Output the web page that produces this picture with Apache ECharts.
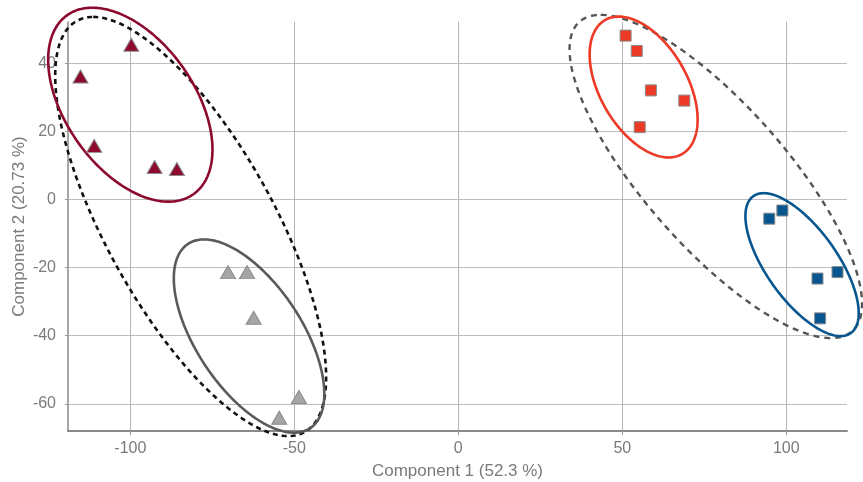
<!DOCTYPE html>
<html>
<head>
<meta charset="utf-8">
<script src="https://cdn.jsdelivr.net/npm/echarts@6/dist/echarts.min.js"></script>
<style>
html,body{margin:0;padding:0;background:#fff;}
#chart{width:863px;height:482px;}
</style>
</head>
<body>
<div id="chart"></div>
<script>
// ---- data ----
const xTicks = [-100, -50, 0, 50, 100];
const yTicks = [-60, -40, -20, 0, 20, 40];

const hybridomaRed = [[-99.7, 45.5], [-115.2, 36.2], [-111.0, 15.8], [-92.6, 9.6], [-85.8, 9.0]];
const hybridomaGray = [[-70.2, -21.3], [-64.4, -21.3], [-62.4, -34.7], [-54.6, -64.1], [-48.6, -58.0]];
const ascitesRed = [[51.0, 48.2], [54.4, 43.7], [58.7, 32.1], [68.9, 29.1], [55.3, 21.3]];
const ascitesBlue = [[94.8, -5.6], [98.8, -3.2], [109.5, -23.2], [115.6, -21.3], [110.3, -34.9]];

// ellipses: center, conjugate semi-diameters u and v (data units)
const ellHybRed = { c: [-100.0, 27.9], u: [-11.6, 28.5], v: [22.2, 0] };
const ellHybGray = { c: [-63.8, -40.1], u: [-13.7, 28.4], v: [18.4, 0] };
const ellHybAll = { c: [-81.6, -7.9], u: [-29.7, 61.6], v: [28.7, 0] };
const ellAscRed = { c: [56.5, 33.1], u: [-7.6, 20.7], v: [14.6, 0] };
const ellAscBlue = { c: [104.8, -19.1], u: [-11.7, 21.0], v: [12.7, 0] };
const ellAscAll = { c: [78.5, 6.8], u: [-35.1, 47.5], v: [27.5, 0] };

const annotations = [
  { name: 'Hybridoma', value: [-75.6, 34.4] },
  { name: '3.2', value: [-72.8, 6.5] },
  { name: '3.7', value: [-98.0, -24.9] },
  { name: '11.0', value: [75.1, 24.9] },
  { name: 'Ascites', value: [24.7, 9.1] },
  { name: '13.0', value: [73.6, -13.7] }
];

// ---- helpers ----
const C_DARKRED = '#8c0a2e';
const C_RED = '#ec3a26';
const C_BLUE = '#08568f';
const C_GRAY = '#a5a5a5';
const FONT = '"Liberation Sans", Arial, sans-serif';

function ellSeries(e, color, width, dash) {
  return {
    type: 'custom', data: [e.c], clip: false, silent: true, z: 2,
    renderItem: function (params, api) {
      const c = api.coord([api.value(0), api.value(1)]);
      const s = api.size([1, 1]);
      const pts = [];
      const n = 240;
      for (let i = 0; i < n; i++) {
        const t = 2 * Math.PI * i / n;
        const dx = e.u[0] * Math.cos(t) + e.v[0] * Math.sin(t);
        const dy = e.u[1] * Math.cos(t) + e.v[1] * Math.sin(t);
        pts.push([c[0] + dx * s[0], c[1] - dy * s[1]]);
      }
      return {
        type: 'polygon', shape: { points: pts },
        style: { fill: 'none', stroke: color, lineWidth: width, lineDash: dash || null }
      };
    }
  };
}

function scat(data, symbol, size, color) {
  return {
    type: 'scatter', data: data, symbol: symbol, symbolSize: size, z: 5,
    itemStyle: { color: color, borderColor: '#8a8a8a', borderWidth: 1, opacity: 1 }
  };
}

const labelStyle = {
  'Hybridoma': { color: '#1a1a1a', fontSize: 16.5 },
  'Ascites': { color: '#1a1a1a', fontSize: 16.5 },
  '3.2': { color: C_DARKRED, fontSize: 15.5 },
  '3.7': { color: '#6b6b6b', fontSize: 15.5 },
  '11.0': { color: C_RED, fontSize: 15.5 },
  '13.0': { color: C_BLUE, fontSize: 15.5 }
};

const chart = echarts.init(document.getElementById('chart'), null, { renderer: 'canvas' });
chart.setOption({
  animation: false,
  backgroundColor: '#fff',
  grid: { left: 68, right: 16, top: 22, bottom: 51, containLabel: false, outerBoundsMode: 'none' },
  xAxis: {
    type: 'value', min: -119, max: 118.5,
    name: 'Component 1 (52.3 %)', nameLocation: 'middle', nameGap: 32, nameMoveOverlap: false,
    nameTextStyle: { color: '#7a7a7a', fontSize: 17, fontFamily: FONT },
    axisLine: { show: true, onZero: false, lineStyle: { color: '#8a8a8a', width: 2 } },
    axisTick: { show: true, length: 4, customValues: xTicks, lineStyle: { color: '#999' } },
    axisLabel: { customValues: xTicks, color: '#7a7a7a', fontSize: 16, fontFamily: FONT, margin: 10 },
    splitLine: { show: true, lineStyle: { color: '#b4b4b4', width: 1 } }
  },
  yAxis: {
    type: 'value', min: -68, max: 52.2,
    name: 'Component 2 (20.73 %)', nameLocation: 'middle', nameGap: 40, nameMoveOverlap: false,
    nameTextStyle: { color: '#7a7a7a', fontSize: 17, fontFamily: FONT },
    axisLine: { show: true, onZero: false, lineStyle: { color: '#8a8a8a', width: 1.5 } },
    axisTick: { show: true, length: 3, customValues: yTicks, lineStyle: { color: '#999' } },
    axisLabel: { customValues: yTicks, color: '#7a7a7a', fontSize: 16, fontFamily: FONT, margin: 12 },
    splitLine: { show: true, lineStyle: { color: '#bdbdbd', width: 1 } }
  },
  series: [
    ellSeries(ellHybAll, '#111', 2.6, [5, 4]),
    ellSeries(ellAscAll, '#555', 2.4, [6, 5]),
    ellSeries(ellHybRed, C_DARKRED, 2.6),
    ellSeries(ellHybGray, '#5a5a5a', 2.6),
    ellSeries(ellAscRed, C_RED, 2.6),
    ellSeries(ellAscBlue, C_BLUE, 2.6),
    scat(hybridomaRed, 'triangle', [15, 13], C_DARKRED),
    scat(hybridomaGray, 'triangle', [15, 13], C_GRAY),
    scat(ascitesRed, 'rect', 11, C_RED),
    scat(ascitesBlue, 'rect', 11, C_BLUE),
    {
      type: 'scatter', symbolSize: 0, silent: true, z: 6,
      data: annotations.map(a => ({
        name: a.name, value: a.value,
        label: Object.assign({ fontFamily: FONT }, labelStyle[a.name])
      })),
      label: { show: true, position: 'right', distance: 0, formatter: p => p.name },
      itemStyle: { opacity: 0 }
    }
  ]
});
</script>
</body>
</html>
